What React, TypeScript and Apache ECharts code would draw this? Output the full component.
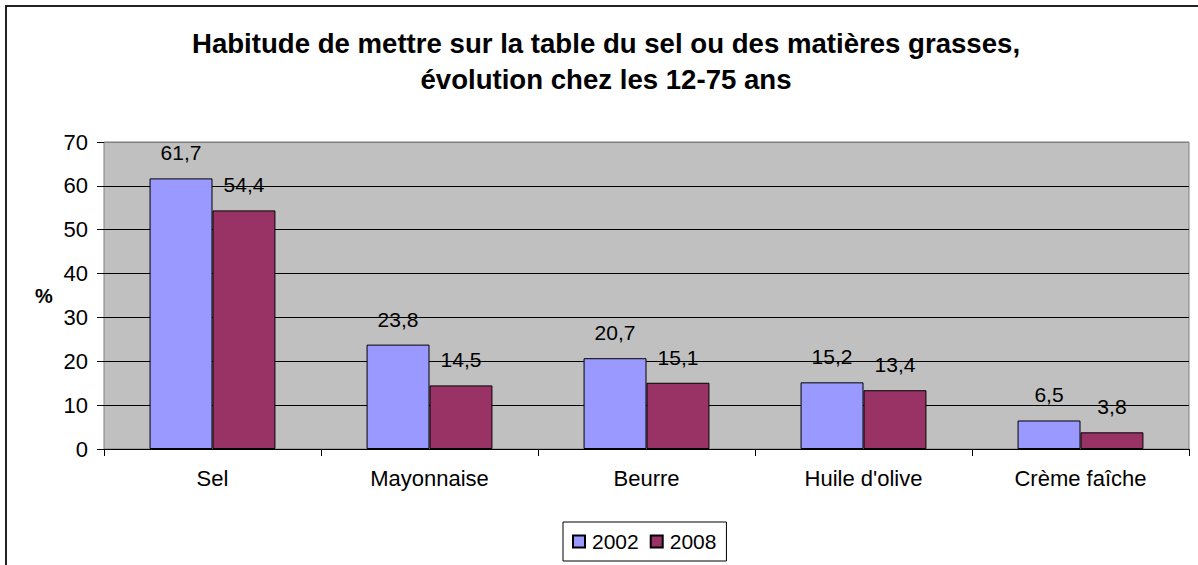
import React, { useEffect, useRef } from "react";
import * as echarts from "echarts";

const categories = ["Sel", "Mayonnaise", "Beurre", "Huile d'olive", "Crème faîche"];
const values2002 = [61.7, 23.8, 20.7, 15.2, 6.5];
const values2008 = [54.4, 14.5, 15.1, 13.4, 3.8];
const seriesNames = ["2002", "2008"];
const titleLines = [
  "Habitude de mettre sur la table du sel ou des matières grasses,",
  "évolution chez les 12-75 ans",
];
const yAxisName = "%";

const FONT = "Liberation Sans, Arial, sans-serif";

export default function App() {
  const ref = useRef<HTMLDivElement>(null);
  useEffect(() => {
    if (!ref.current) return;
    const chart = echarts.init(ref.current, null, { renderer: "svg" });
    const labelFmt = (p: any) => String(p.value).replace(".", ",");
    const barLabel = {
      show: true,
      position: "top",
      distance: 15,
      fontSize: 21,
      color: "#000",
      fontFamily: FONT,
      formatter: labelFmt,
    };
    chart.setOption({
      animation: false,
      backgroundColor: "#fff",
      textStyle: { fontFamily: FONT },
      graphic: [
        {
          type: "rect",
          shape: { x: 6, y: 6, width: 1250, height: 700 },
          style: { fill: "none", stroke: "#222", lineWidth: 2 },
          silent: true,
        },
        {
          type: "text",
          x: 606,
          y: 25,
          style: {
            text: titleLines.join("\n"),
            font: `bold 27.6px ${FONT}`,
            textAlign: "center",
            lineHeight: 36,
            fill: "#000",
          },
        },
        {
          type: "text",
          x: 44,
          y: 296,
          style: {
            text: yAxisName,
            font: `bold 20px ${FONT}`,
            textAlign: "center",
            textVerticalAlign: "middle",
            fill: "#000",
          },
        },
      ],
      legend: {
        data: seriesNames,
        left: 563,
        top: 522,
        orient: "horizontal",
        padding: [9, 10, 9, 9],
        borderColor: "#000",
        borderWidth: 1,
        itemWidth: 12,
        itemHeight: 12,
        itemGap: 11,
        icon: "rect",
        textStyle: { fontSize: 21, color: "#000", fontFamily: FONT, padding: [0, 0, 0, 2] },
      },
      grid: {
        left: 104,
        right: 9,
        top: 142,
        bottom: 116,
        show: true,
        backgroundColor: "#C0C0C0",
        borderColor: "#808080",
        borderWidth: 1,
      },
      xAxis: {
        type: "category",
        data: categories,
        axisLine: { show: true, lineStyle: { color: "#000", width: 1 } },
        axisTick: { show: true, length: 7, lineStyle: { color: "#000" } },
        axisLabel: { fontSize: 22, color: "#000", margin: 18, fontFamily: FONT },
      },
      yAxis: {
        type: "value",
        min: 0,
        max: 70,
        interval: 10,
        axisLine: { show: false },
        axisTick: { show: true, length: 7, lineStyle: { color: "#000" } },
        axisLabel: { fontSize: 22, color: "#000", margin: 16, fontFamily: FONT },
        splitLine: {
          show: true,
          lineStyle: {
            color: ["#000", "#000", "#000", "#000", "#000", "#000", "#000", "#808080"],
            width: 1,
          },
        },
      },
      series: [
        {
          name: seriesNames[0],
          type: "bar",
          data: values2002,
          barGap: "0%",
          barCategoryGap: "42%",
          itemStyle: { color: "#9999FF", borderColor: "#000", borderWidth: 1 },
          label: barLabel,
        },
        {
          name: seriesNames[1],
          type: "bar",
          data: values2008,
          barGap: "0%",
          barCategoryGap: "42%",
          itemStyle: { color: "#993366", borderColor: "#000", borderWidth: 1 },
          label: barLabel,
        },
      ],
    });
    return () => chart.dispose();
  }, []);
  return (
    <div
      ref={ref}
      style={{ position: "absolute", left: 0, top: 0, width: 1198, height: 565 }}
    />
  );
}
